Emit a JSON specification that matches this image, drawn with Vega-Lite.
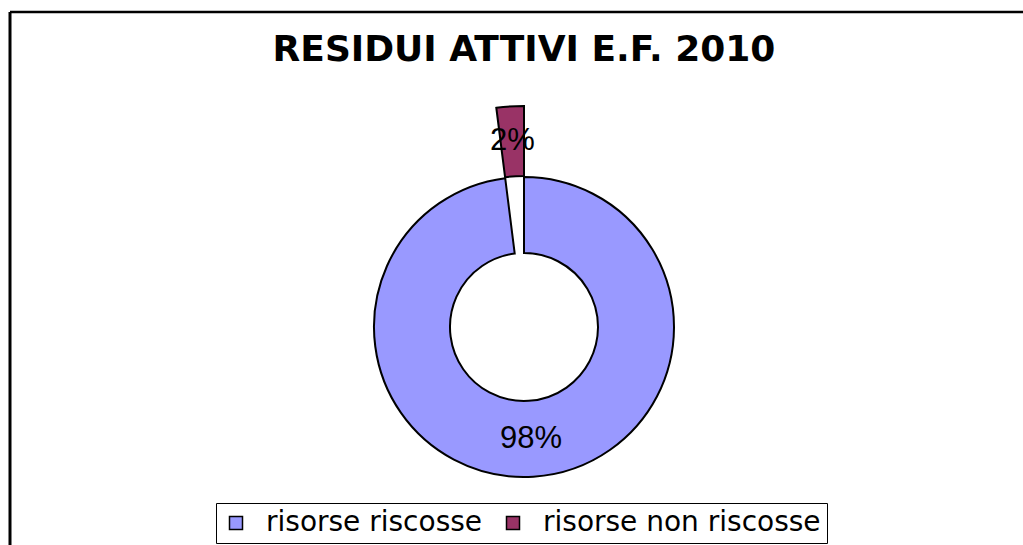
{
  "$schema": "https://vega.github.io/schema/vega-lite/v6.json",
  "width": 1028,
  "height": 630,
  "autosize": "none",
  "padding": {"left": 10, "top": 12, "right": 0, "bottom": 0},
  "background": "white",
  "config": {"view": {"stroke": null}, "font": "Liberation Sans"},
  "title": {"text": "RESIDUI ATTIVI E.F. 2010", "font": "DejaVu Sans", "fontSize": 36, "fontWeight": "bold", "color": "black", "anchor": "middle", "frame": "group", "orient": "top", "offset": -86, "baseline": "alphabetic"},
  "data": {"values": [
    {"categoria": "risorse riscosse", "valore": 98, "etichetta": "98%"},
    {"categoria": "risorse non riscosse", "valore": 2, "etichetta": "2%"}
  ]},
  "transform": [{"stack": "valore", "groupby": [], "as": ["inizio", "fine"]}],
  "layer": [
    {
      "data": {"values": [{"cornice": "sinistra"}]},
      "mark": {"type": "rule", "stroke": "black", "strokeWidth": 3},
      "encoding": {"x": {"value": 0}, "y": {"value": 0}, "y2": {"value": "height"}}
    },
    {
      "data": {"values": [{"cornice": "alto"}]},
      "mark": {"type": "rule", "stroke": "black", "strokeWidth": 2.5},
      "encoding": {"y": {"value": 0}, "x": {"value": 0}, "x2": {"value": "width"}}
    },
    {
      "transform": [{"filter": "datum.categoria === 'risorse riscosse'"}],
      "mark": {"type": "arc", "radius": 150, "radius2": 74, "stroke": "black", "strokeWidth": 2},
      "encoding": {
        "theta": {"field": "inizio", "type": "quantitative", "scale": {"domain": [0, 100]}},
        "theta2": {"field": "fine"},
        "color": {"field": "categoria", "type": "nominal",
          "scale": {"domain": ["risorse riscosse", "risorse non riscosse"], "range": ["#9999FF", "#993366"]},
          "legend": {"title": null, "orient": "none", "legendX": 206, "legendY": 491, "direction": "horizontal", "symbolType": "square", "symbolSize": 169, "symbolStrokeColor": "black", "symbolStrokeWidth": 1.5, "labelFont": "DejaVu Sans", "labelFontSize": 28, "labelColor": "black", "labelOffset": 16, "columnPadding": 16, "padding": 6, "strokeColor": "black", "fillColor": "white", "labelLimit": 400}}
      }
    },
    {
      "transform": [{"filter": "datum.categoria === 'risorse non riscosse'"}],
      "mark": {"type": "arc", "radius": 221, "radius2": 151, "stroke": "black", "strokeWidth": 2},
      "encoding": {
        "theta": {"field": "inizio", "type": "quantitative", "scale": {"domain": [0, 100]}},
        "theta2": {"field": "fine"},
        "color": {"field": "categoria", "type": "nominal"}
      }
    },
    {
      "mark": {"type": "text", "radius": 112, "font": "Liberation Sans", "fontSize": 31, "color": "black", "align": "center", "baseline": "middle"},
      "encoding": {
        "theta": {"field": "valore", "type": "quantitative", "stack": true},
        "order": {"field": "inizio", "type": "quantitative", "sort": "ascending"},
        "text": {"condition": {"test": "datum.categoria === 'risorse riscosse'", "field": "etichetta"}, "value": ""}
      }
    },
    {
      "mark": {"type": "text", "radius": 186, "font": "Liberation Sans", "fontSize": 31, "color": "black", "align": "center", "baseline": "middle"},
      "encoding": {
        "theta": {"field": "valore", "type": "quantitative", "stack": true},
        "order": {"field": "inizio", "type": "quantitative", "sort": "ascending"},
        "text": {"condition": {"test": "datum.categoria === 'risorse non riscosse'", "field": "etichetta"}, "value": ""}
      }
    }
  ]
}
